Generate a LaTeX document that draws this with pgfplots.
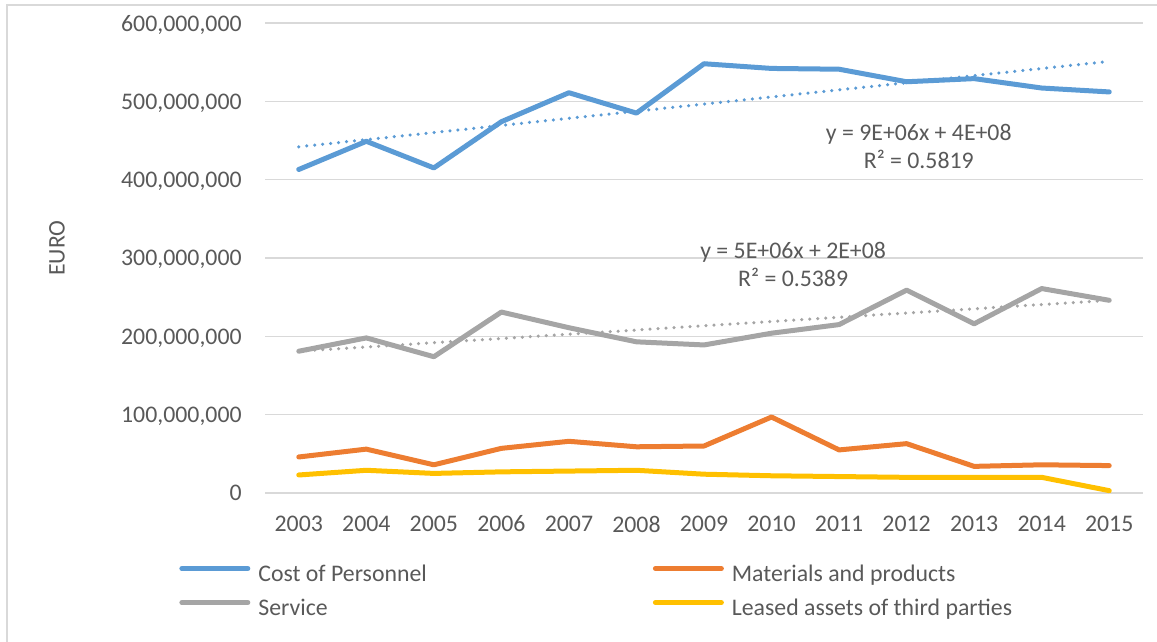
\documentclass[border=0pt]{standalone}
\usepackage{pgfplots}
\pgfplotsset{compat=1.18}
\usepackage{fontspec}
\setmainfont{Carlito}

\definecolor{cPers}{HTML}{5B9BD5}
\definecolor{cMat}{HTML}{ED7D31}
\definecolor{cServ}{HTML}{A5A5A5}
\definecolor{cLease}{HTML}{FFC000}
\definecolor{txt}{HTML}{595959}
\definecolor{gridc}{HTML}{D9D9D9}

\begin{document}
\begin{tikzpicture}[x=1pt,y=1pt,font=\fontsize{11.9}{14}\selectfont]
% page = 1157 x 642 px at 0.5pt per px
\path[use as bounding box] (0,0) rectangle (578.5,-321);
\draw[gridc, line width=1pt] (3.5,-321) -- (3.5,-2.5) -- (578.5,-2.5);
\begin{axis}[
    at={(132.5pt,-246.5pt)}, anchor=south west,
    width=439pt, height=235pt, scale only axis,
    xmin=2002.5, xmax=2015.5,
    ymin=0, ymax=600000000,
    xtick={2003,2004,2005,2006,2007,2008,2009,2010,2011,2012,2013,2014,2015},
    ytick={0,100000000,200000000,300000000,400000000,500000000,600000000},
    scaled y ticks=false,
    axis line style={draw=none},
    major tick length=0pt,
    ymajorgrids, grid style={gridc, line width=0.6pt},
    tick label style={text=txt},
    /pgf/number format/assume math mode=true,
    xticklabel style={anchor=center, yshift=-15.5pt, inner sep=0pt,
        /pgf/number format/1000 sep={}},
    yticklabel style={anchor=east, inner sep=0pt, xshift=-11.5pt, text depth=0pt,
        /pgf/number format/fixed, /pgf/number format/precision=0,
        /pgf/number format/1000 sep={,}},
    ylabel={EURO},
    ylabel style={at={(axis description cs:-0.237,0.521)}, anchor=center, text=txt},
    legend columns=2,
    legend cell align=left,
    legend image code/.code={\draw[#1] (0pt,3.6pt) -- (33pt,3.6pt);},
    legend style={at={(axis description cs:-0.098,-0.154)}, anchor=north west,
        draw=none, fill=none, inner sep=0pt, row sep=7pt,
        nodes={inner sep=0pt, text=txt, text height=8pt, text depth=2pt},
        /tikz/every odd column/.append style={column sep=4pt},
        /tikz/every even column/.append style={column sep=113pt}},
    every axis plot/.append style={line width=2.5pt, line join=round, line cap=round},
]
\addplot[cPers] coordinates {
  (2003,413000000) (2004,449000000) (2005,415000000) (2006,474000000)
  (2007,511000000) (2008,485000000) (2009,548000000) (2010,542000000)
  (2011,541000000) (2012,525000000) (2013,529000000) (2014,517000000)
  (2015,512000000)};
\addlegendentry{Cost of Personnel}
\addplot[cMat] coordinates {
  (2003,46000000) (2004,56000000) (2005,36000000) (2006,57000000)
  (2007,66000000) (2008,59000000) (2009,60000000) (2010,97000000)
  (2011,55000000) (2012,63000000) (2013,34000000) (2014,36000000)
  (2015,35000000)};
\addlegendentry{Materials and products}
\addplot[cServ] coordinates {
  (2003,181000000) (2004,198000000) (2005,174000000) (2006,231000000)
  (2007,211000000) (2008,193000000) (2009,189000000) (2010,204000000)
  (2011,215000000) (2012,259000000) (2013,216000000) (2014,261000000)
  (2015,246000000)};
\addlegendentry{Service}
\addplot[cLease] coordinates {
  (2003,23000000) (2004,29000000) (2005,25000000) (2006,27000000)
  (2007,28000000) (2008,29000000) (2009,24000000) (2010,22000000)
  (2011,21000000) (2012,20000000) (2013,20000000) (2014,20000000)
  (2015,3000000)};
\addlegendentry{Leased assets of third parties}
% linear trendlines
\addplot[cPers, forget plot, line width=1.75pt, dash pattern=on 0pt off 4pt]
  coordinates {(2003,442000000) (2015,551000000)};
\addplot[cServ, forget plot, line width=1.75pt, dash pattern=on 0pt off 4pt]
  coordinates {(2003,181000000) (2015,246000000)};
\node[align=center, text=txt] at (axis cs:2012.18,443000000)
  {y = 9E+06x + 4E+08\\R² = 0.5819};
\node[align=center, text=txt] at (axis cs:2010.32,292000000)
  {y = 5E+06x + 2E+08\\R² = 0.5389};
\end{axis}
\end{tikzpicture}
\end{document}
